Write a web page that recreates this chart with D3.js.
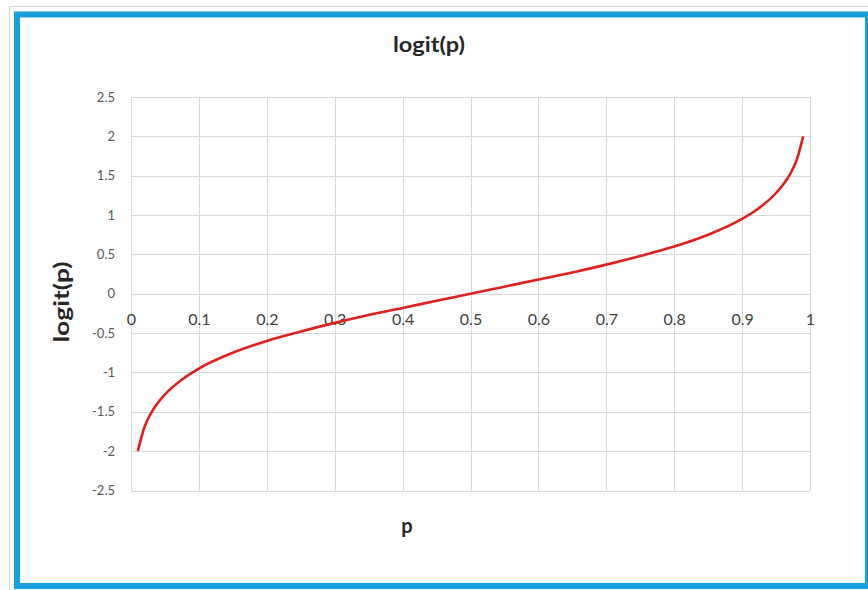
<!DOCTYPE html>
<html>
<head>
<meta charset="utf-8">
<script src="https://cdn.jsdelivr.net/npm/d3@7/dist/d3.min.js"></script>
<style>
  html, body { margin: 0; padding: 0; background: #ffffff; }
  svg { display: block; }
</style>
</head>
<body>
<svg id="chart" width="868" height="590"></svg>
<script>
// Probability values along the horizontal axis
const pValues = [0.01, 0.02, 0.03, 0.05, 0.075, 0.1, 0.15, 0.2, 0.25, 0.3, 0.35, 0.4, 0.45,
                 0.5, 0.55, 0.6, 0.65, 0.7, 0.75, 0.8, 0.85, 0.9, 0.925, 0.95, 0.97, 0.98, 0.99];
// logit(p) at each probability
const logitValues = [-2.0, -1.69, -1.51, -1.28, -1.09, -0.95, -0.75, -0.60, -0.48, -0.37, -0.27, -0.18, -0.09,
                     0.0, 0.09, 0.18, 0.27, 0.37, 0.48, 0.60, 0.75, 0.95, 1.09, 1.28, 1.51, 1.69, 2.0];
// Axis tick values
const xTicks = [0, 0.1, 0.2, 0.3, 0.4, 0.5, 0.6, 0.7, 0.8, 0.9, 1];
const yTicks = [-2.5, -2, -1.5, -1, -0.5, 0, 0.5, 1, 1.5, 2, 2.5];

const chartTitle = "logit(p)";
const xTitle = "p";
const yTitle = "logit(p)";

const svg = d3.select("#chart");
const W = 868, H = 590;
const plot = { left: 131, right: 810, top: 97, bottom: 490.5 };

// Frame: thin grey outline and blue border
svg.append("line").attr("x1", 9).attr("x2", W).attr("y1", 6.5).attr("y2", 6.5)
  .attr("stroke", "#d4d4d4").attr("stroke-width", 1);
svg.append("line").attr("x1", 9.5).attr("x2", 9.5).attr("y1", 6).attr("y2", H)
  .attr("stroke", "#d4d4d4").attr("stroke-width", 1);
svg.append("rect").attr("x", 17).attr("y", 14.5).attr("width", 851).attr("height", 571.5)
  .attr("fill", "#ffffff").attr("stroke", "#179fdc").attr("stroke-width", 6);

const x = d3.scaleLinear().domain([0, 1]).range([plot.left, plot.right]);
const y = d3.scaleLinear().domain([-2.5, 2.5]).range([plot.bottom, plot.top]);

// Gridlines
const grid = svg.append("g").attr("stroke", "#d9d9d9").attr("stroke-width", 1);
grid.selectAll("line.h").data(yTicks).join("line").attr("class", "h")
  .attr("x1", plot.left).attr("x2", plot.right)
  .attr("y1", d => Math.round(y(d)) + 0.5).attr("y2", d => Math.round(y(d)) + 0.5);
grid.selectAll("line.v").data(xTicks).join("line").attr("class", "v")
  .attr("y1", plot.top).attr("y2", plot.bottom)
  .attr("x1", d => Math.round(x(d)) + 0.5).attr("x2", d => Math.round(x(d)) + 0.5);

// Y axis labels
const yAxis = d3.axisLeft(y).tickValues(yTicks).tickSize(0).tickPadding(16)
  .tickFormat(d => String(d));
svg.append("g").attr("transform", `translate(${plot.left},0)`).call(yAxis)
  .call(g => g.select(".domain").remove())
  .selectAll("text")
  .attr("font-family", "Lato, 'Open Sans', sans-serif")
  .attr("font-size", 13).attr("fill", "#595959");

// X axis labels sit just below the zero line
const xAxis = d3.axisBottom(x).tickValues(xTicks).tickSize(0).tickPadding(20)
  .tickFormat(d => String(d));
svg.append("g").attr("transform", `translate(0,${y(0)})`).call(xAxis)
  .call(g => g.select(".domain").remove())
  .selectAll("text")
  .attr("font-family", "Lato, 'Open Sans', sans-serif")
  .attr("font-size", 16).attr("fill", "#404040");

// Curve
const line = d3.line()
  .x((d, i) => x(pValues[i]))
  .y(d => y(d))
  .curve(d3.curveMonotoneX);
svg.append("path").datum(logitValues)
  .attr("d", line)
  .attr("fill", "none")
  .attr("stroke", "#e0201c")
  .attr("stroke-width", 2.6)
  .attr("stroke-linejoin", "round");

// Titles
svg.append("text").text(chartTitle)
  .attr("x", 429).attr("y", 52)
  .attr("text-anchor", "middle")
  .attr("font-family", "Lato, 'Open Sans', sans-serif")
  .attr("font-weight", "bold").attr("font-size", 20)
  .attr("textLength", 72).attr("lengthAdjust", "spacingAndGlyphs")
  .attr("fill", "#262626");

svg.append("text").text(xTitle)
  .attr("x", 407).attr("y", 533)
  .attr("text-anchor", "middle")
  .attr("font-family", "Lato, 'Open Sans', sans-serif")
  .attr("font-weight", "bold").attr("font-size", 20)
  .attr("fill", "#262626");

svg.append("text").text(yTitle)
  .attr("transform", "translate(69,302) rotate(-90)")
  .attr("text-anchor", "middle")
  .attr("font-family", "Lato, 'Open Sans', sans-serif")
  .attr("font-weight", "bold").attr("font-size", 20)
  .attr("textLength", 81).attr("lengthAdjust", "spacingAndGlyphs")
  .attr("fill", "#262626");
</script>
</body>
</html>
